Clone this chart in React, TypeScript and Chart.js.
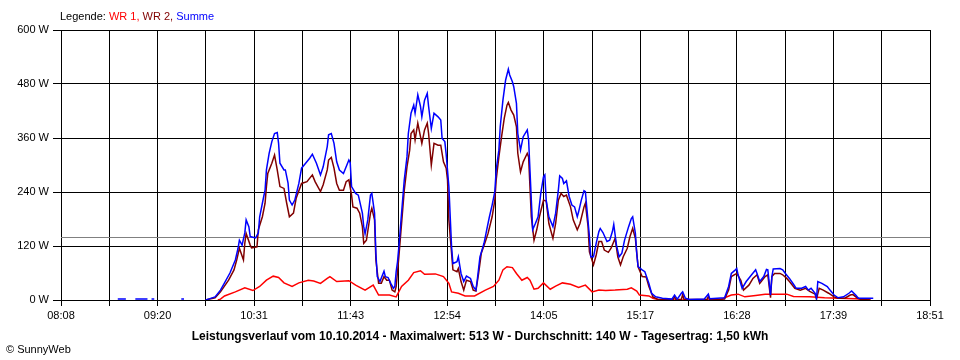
import React, { useEffect, useRef } from "react";
import { Chart, registerables } from "chart.js";

Chart.register(...registerables);

// time axis in minutes since midnight
const dayStart = 488; // 08:08
const dayEnd = 1131; // 18:51
const xTickLabels = ["08:08", "09:20", "10:31", "11:43", "12:54", "14:05", "15:17", "16:28", "17:39", "18:51"];
const yTickStep = 120;
const yMax = 600;
const averageWatts = 140;

const legendItems = ["WR 1", "WR 2", "Summe"];
const caption = "Leistungsverlauf vom 10.10.2014 - Maximalwert: 513 W - Durchschnitt: 140 W - Tagesertrag: 1,50 kWh";

// [minute, watts]
const summe: [number, number | null][] = [
  [530, 2], [536, 2], [537, null], [543, 2], [552, 2], [553, null], [555, 2], [557, 2], [558, null], [577, 2], [579, 2], [580, null],
  [595, 0], [597, 2], [602, 7], [606, 22], [609, 38], [613, 60], [617, 89], [619, 115], [620, 133], [622, 122],
  [624, 149], [625, 178], [627, 163], [628, 141], [632, 138], [634, 149], [635, 185], [638, 230], [639, 244], [640, 289],
  [642, 326], [644, 352], [646, 370], [648, 372], [649, 348], [650, 304], [653, 289], [654, 289], [656, 260], [657, 222],
  [659, 211], [661, 222], [664, 259], [666, 293], [669, 304], [672, 315], [674, 324], [677, 304], [680, 278], [682, 296],
  [685, 341], [686, 367], [688, 370], [690, 348], [692, 307], [694, 289], [697, 281], [699, 296], [701, 311], [702, 305],
  [703, 252], [706, 237], [708, 233], [711, 193], [712, 163], [713, 147], [715, 178], [717, 233], [718, 237], [720, 193],
  [721, 104], [722, 52], [724, 41], [727, 64], [728, 52], [730, 50], [732, 37], [734, 26], [735, 30], [736, 63],
  [737, 85], [738, 118], [740, 193], [742, 267], [744, 318], [745, 370], [747, 415], [749, 433], [750, 415], [752, 456],
  [754, 430], [755, 407], [757, 444], [759, 459], [760, 430], [762, 381], [764, 415], [767, 407], [769, 400], [770, 359],
  [772, 352], [773, 324], [775, 252], [776, 185], [777, 118], [778, 81], [781, 85], [782, 96], [784, 59], [786, 41],
  [788, 53], [791, 48], [793, 30], [795, 22], [796, 44], [798, 96], [801, 126], [803, 156], [805, 185], [807, 211],
  [809, 241], [810, 289], [812, 333], [813, 385], [815, 444], [817, 489], [819, 513], [820, 500], [822, 485], [823, 474],
  [825, 437], [826, 370], [828, 333], [830, 363], [833, 378], [834, 356], [835, 289], [836, 222], [837, 156], [839, 170],
  [841, 185], [843, 237], [845, 274], [846, 278], [847, 222], [849, 185], [852, 163], [854, 193], [856, 244], [857, 276],
  [859, 270], [860, 259], [862, 265], [864, 230], [866, 211], [868, 207], [870, 185], [871, 196], [873, 222], [875, 243],
  [876, 241], [877, 207], [879, 141], [880, 96], [882, 96], [884, 126], [886, 152], [887, 159], [889, 150], [892, 130],
  [894, 133], [896, 152], [897, 168], [899, 122], [901, 96], [903, 104], [905, 133], [908, 163], [910, 181], [911, 185],
  [913, 148], [914, 104], [915, 74], [918, 67], [920, 63], [923, 37], [925, 15], [928, 7], [933, 4], [940, 2],
  [942, 11], [944, 2], [947, 15], [948, 18], [950, 4], [953, 1], [964, 2], [967, 13], [968, 3], [979, 5],
  [982, 30], [984, 59], [987, 67], [988, 70], [989, 56], [992, 26], [995, 41], [999, 56], [1002, 67], [1003, 59],
  [1005, 41], [1008, 52], [1010, 68], [1011, 67], [1013, 11], [1014, 52], [1015, 69], [1020, 70], [1022, 67], [1024, 59],
  [1027, 48], [1030, 35], [1032, 26], [1036, 26], [1039, 30], [1041, 22], [1043, 26], [1046, 15], [1047, 4], [1048, 41],
  [1051, 37], [1055, 30], [1057, 22], [1060, 11], [1063, 5], [1067, 7], [1071, 15], [1073, 20], [1076, 11], [1078, 4],
  [1089, 4],
];

const wr2: [number, number | null][] = [
  [595, 0], [598, 2], [602, 5], [606, 18], [612, 44], [616, 67], [618, 89], [620, 115], [623, 89], [624, 126],
  [625, 148], [628, 122], [629, 116], [633, 118], [634, 156], [637, 185], [639, 215], [640, 252], [641, 281], [644, 304],
  [646, 322], [648, 289], [650, 252], [653, 248], [655, 215], [657, 185], [660, 193], [662, 226], [666, 259], [670, 263],
  [674, 278], [676, 263], [680, 241], [682, 256], [685, 289], [686, 311], [688, 317], [690, 293], [692, 259], [694, 244],
  [697, 244], [699, 263], [701, 267], [703, 233], [704, 207], [707, 204], [709, 193], [711, 163], [712, 126], [714, 133],
  [717, 193], [718, 204], [720, 178], [721, 89], [723, 37], [725, 37], [727, 52], [729, 44], [731, 44], [733, 22],
  [735, 18], [736, 30], [738, 96], [740, 170], [742, 244], [744, 296], [746, 333], [747, 370], [749, 378], [750, 356],
  [752, 393], [754, 363], [755, 348], [757, 378], [759, 393], [760, 370], [762, 300], [764, 348], [767, 344], [769, 344],
  [771, 307], [773, 293], [774, 267], [775, 178], [777, 104], [778, 67], [781, 63], [782, 70], [784, 41], [786, 22],
  [788, 44], [791, 41], [793, 22], [795, 20], [797, 59], [799, 104], [802, 130], [804, 148], [807, 185], [809, 222],
  [810, 267], [812, 318], [814, 363], [816, 404], [818, 433], [819, 439], [821, 422], [823, 411], [825, 385], [826, 326],
  [828, 285], [830, 307], [833, 326], [834, 318], [835, 252], [836, 185], [838, 133], [840, 156], [842, 185], [845, 222],
  [847, 220], [849, 170], [852, 137], [854, 170], [856, 222], [858, 237], [860, 230], [862, 233], [865, 207], [867, 178],
  [870, 156], [872, 170], [875, 207], [876, 215], [878, 163], [879, 107], [882, 78], [884, 100], [886, 130], [888, 130],
  [890, 111], [893, 106], [895, 115], [898, 137], [900, 96], [902, 78], [904, 96], [907, 115], [909, 141], [911, 159],
  [913, 137], [915, 74], [918, 52], [921, 51], [923, 30], [926, 7], [930, 1], [941, 1], [942, 8], [943, 1],
  [947, 1], [948, 12], [949, 1], [966, 1], [967, 8], [968, 1], [979, 2], [982, 22], [984, 52], [988, 59],
  [991, 44], [993, 22], [997, 33], [1000, 48], [1003, 56], [1005, 37], [1009, 52], [1011, 56], [1013, 5], [1014, 52],
  [1016, 59], [1020, 59], [1022, 56], [1025, 48], [1027, 41], [1031, 26], [1035, 22], [1039, 26], [1042, 19], [1046, 13],
  [1047, 2], [1049, 26], [1052, 22], [1056, 15], [1060, 7], [1063, 4], [1068, 4], [1072, 11], [1074, 12], [1077, 5],
  [1080, 1], [1087, 0],
];

const wr1: [number, number | null][] = [
  [604, 0], [606, 2], [609, 9], [617, 18], [624, 27], [630, 21], [635, 30], [640, 44], [645, 53], [649, 50],
  [653, 38], [659, 30], [664, 38], [671, 44], [675, 42], [680, 37], [685, 48], [687, 52], [692, 41], [701, 43],
  [706, 33], [713, 22], [719, 33], [723, 11], [731, 11], [736, 7], [740, 30], [745, 44], [749, 61], [754, 65],
  [757, 57], [765, 58], [771, 52], [775, 37], [777, 18], [782, 15], [787, 9], [794, 9], [802, 22], [808, 30],
  [812, 44], [815, 67], [818, 74], [822, 72], [825, 59], [829, 44], [833, 50], [835, 44], [838, 24], [841, 26],
  [845, 38], [850, 24], [854, 31], [859, 38], [865, 35], [871, 28], [876, 33], [881, 18], [886, 22], [891, 21],
  [898, 22], [907, 24], [910, 27], [914, 20], [916, 11], [923, 9], [926, 4], [931, 0], [976, 0], [979, 5],
  [984, 11], [989, 13], [994, 7], [1002, 10], [1009, 13], [1019, 13], [1025, 13], [1030, 8], [1042, 7], [1053, 5],
  [1064, 4], [1076, 3], [1083, 1], [1087, 0],
];

const COLORS = { wr1: "#ff0000", wr2: "#800000", summe: "#0000ff", avg: "#808080", grid: "#000000" };
const FONT = "'Liberation Sans', Arial, sans-serif";

const toPoints = (rows: [number, number | null][]) => rows.map(([x, y]) => ({ x, y }));

const averagePlugin = {
  id: "averageLine",
  beforeDatasetsDraw(chart: any) {
    const { ctx, chartArea, scales } = chart;
    const y = Math.round(scales.y.getPixelForValue(averageWatts)) + 0.5;
    ctx.save();
    ctx.strokeStyle = COLORS.avg;
    ctx.lineWidth = 1;
    ctx.beginPath();
    ctx.moveTo(chartArea.left, y);
    ctx.lineTo(chartArea.right, y);
    ctx.stroke();
    ctx.restore();
  },
};

export default function App() {
  const canvasRef = useRef<HTMLCanvasElement | null>(null);

  useEffect(() => {
    document.body.style.margin = "0";
    const canvas = canvasRef.current;
    if (!canvas) return;
    const line = (label: string, rows: [number, number | null][], color: string) => ({
      label,
      data: toPoints(rows),
      borderColor: color,
      backgroundColor: color,
      borderWidth: 1.5,
      pointRadius: 0,
      tension: 0,
      spanGaps: false,
      fill: false,
    });
    const chart = new Chart(canvas, {
      type: "line",
      data: {
        datasets: [
          line(legendItems[2], summe, COLORS.summe),
          line(legendItems[1], wr2, COLORS.wr2),
          line(legendItems[0], wr1, COLORS.wr1),
        ],
      },
      options: {
        animation: false,
        responsive: false,
        maintainAspectRatio: false,
        layout: { padding: { left: 0, top: 30, right: 30, bottom: 0 } },
        plugins: { legend: { display: false }, tooltip: { enabled: false }, title: { display: false } },
        scales: {
          x: {
            type: "linear",
            min: dayStart,
            max: dayEnd,
            afterBuildTicks: (scale: any) => {
              scale.ticks = Array.from({ length: 19 }, (_, i) => ({ value: dayStart + (i * (dayEnd - dayStart)) / 18 }));
            },
            afterFit: (scale: any) => {
              scale.height = 60;
            },
            ticks: {
              autoSkip: false,
              maxRotation: 0,
              padding: 3,
              color: "#000",
              font: { family: FONT, size: 11 },
              callback: (_v: any, index: number) => (index % 2 === 0 ? xTickLabels[index / 2] : ""),
            },
            grid: { color: COLORS.grid, lineWidth: 1, tickLength: 6, drawTicks: true },
            border: { color: COLORS.grid, width: 1 },
          },
          y: {
            type: "linear",
            min: 0,
            max: yMax,
            afterFit: (scale: any) => {
              scale.width = 61;
            },
            ticks: {
              stepSize: yTickStep,
              padding: 4,
              color: "#000",
              font: { family: FONT, size: 11 },
              callback: (v: any) => `${v} W`,
            },
            grid: { color: COLORS.grid, lineWidth: 1, tickLength: 8 },
            border: { color: COLORS.grid, width: 1 },
          },
        },
      },
      plugins: [averagePlugin],
    } as any);
    return () => chart.destroy();
  }, []);

  const textBase: React.CSSProperties = {
    position: "absolute",
    fontFamily: FONT,
    fontSize: 11,
    lineHeight: "13px",
    whiteSpace: "nowrap",
    color: "#000",
  };

  return (
    <div style={{ position: "relative", width: 960, height: 360, background: "#fff" }}>
      <canvas ref={canvasRef} width={960} height={360} style={{ display: "block", width: 960, height: 360 }} />
      <div style={{ ...textBase, left: 60, top: 10 }}>
        Legende: <span style={{ color: COLORS.wr1 }}>{legendItems[0]},</span>{" "}
        <span style={{ color: COLORS.wr2 }}>{legendItems[1]},</span>{" "}
        <span style={{ color: COLORS.summe }}>{legendItems[2]}</span>
      </div>
      <div
        style={{
          ...textBase,
          left: 0,
          width: 960,
          top: 329,
          textAlign: "center",
          fontWeight: "bold",
          fontSize: 12,
          lineHeight: "14px",
        }}
      >
        {caption}
      </div>
      <div style={{ ...textBase, left: 6, top: 343 }}>© SunnyWeb</div>
    </div>
  );
}
